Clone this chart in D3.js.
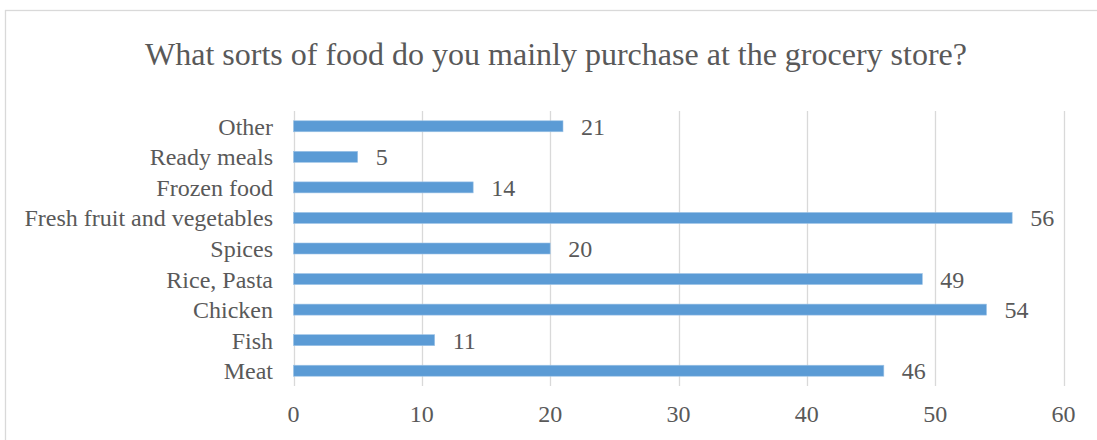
<!DOCTYPE html>
<html>
<head>
<meta charset="utf-8">
<script src="https://cdn.jsdelivr.net/npm/d3@7"></script>
<style>
  body { margin: 0; background: #fff; }
  text { font-family: "Liberation Serif", "Times New Roman", serif; fill: #595959; }
</style>
</head>
<body>
<svg width="1097" height="440"></svg>
<script>
var categories = ["Other", "Ready meals", "Frozen food", "Fresh fruit and vegetables", "Spices", "Rice, Pasta", "Chicken", "Fish", "Meat"];
var values = [21, 5, 14, 56, 20, 49, 54, 11, 46];
var xTicks = [0, 10, 20, 30, 40, 50, 60];

var data = categories.map((c, i) => ({ name: c, value: values[i] }));

var plotLeft = 293.5, plotRight = 1063.5, plotTop = 111, plotBottom = 386;

var svg = d3.select("svg");

// chart frame
svg.append("rect")
    .attr("x", 5.5)
    .attr("y", 10.5)
    .attr("width", 1100)
    .attr("height", 440)
    .attr("fill", "none")
    .attr("stroke", "#d9d9d9")
    .attr("stroke-width", 1.3);

svg.append("text")
    .attr("x", 556)
    .attr("y", 65)
    .attr("text-anchor", "middle")
    .style("font-size", "32px")
    .text("What sorts of food do you mainly purchase at the grocery store?");

var xScale = d3.scaleLinear()
                .domain([0, 60])
                .range([plotLeft, plotRight]);

var yScale = d3.scaleBand()
                .domain(categories)
                .range([plotTop, plotBottom])
                .paddingInner(0.64)
                .paddingOuter(0.32);

// gridlines
svg.append("g")
    .selectAll("line")
    .data(xTicks)
    .enter()
    .append("line")
      .attr("x1", d => Math.round(xScale(d)) + 0.5)
      .attr("x2", d => Math.round(xScale(d)) + 0.5)
      .attr("y1", plotTop)
      .attr("y2", plotBottom)
      .attr("stroke", "#d9d9d9")
      .attr("stroke-width", 1.3);

// x tick labels
svg.append("g")
    .selectAll("text")
    .data(xTicks)
    .enter()
    .append("text")
      .attr("x", d => xScale(d))
      .attr("y", 422)
      .attr("text-anchor", "middle")
      .style("font-size", "24px")
      .text(d => d);

var bars = svg.append("g")
            .selectAll(".bar")
            .data(data)
            .enter()
            .append("g")
              .classed("bar", true);

bars.append("rect")
      .attr("x", xScale(0))
      .attr("y", d => yScale(d.name))
      .attr("width", d => xScale(d.value) - xScale(0))
      .attr("height", yScale.bandwidth())
      .attr("fill", "#5b9bd5")
      .attr("stroke", "#9dc3e6")
      .attr("stroke-width", 0.6);

bars.append("text")
      .attr("x", d => xScale(d.value) + 18)
      .attr("y", d => yScale(d.name) + yScale.bandwidth() / 2 + 8.5)
      .style("font-size", "24px")
      .text(d => d.value);

// category labels
svg.append("g")
    .selectAll("text")
    .data(categories)
    .enter()
    .append("text")
      .attr("x", 273)
      .attr("y", d => yScale(d) + yScale.bandwidth() / 2 + 8.5)
      .attr("text-anchor", "end")
      .style("font-size", "24px")
      .text(d => d);
</script>
</body>
</html>
